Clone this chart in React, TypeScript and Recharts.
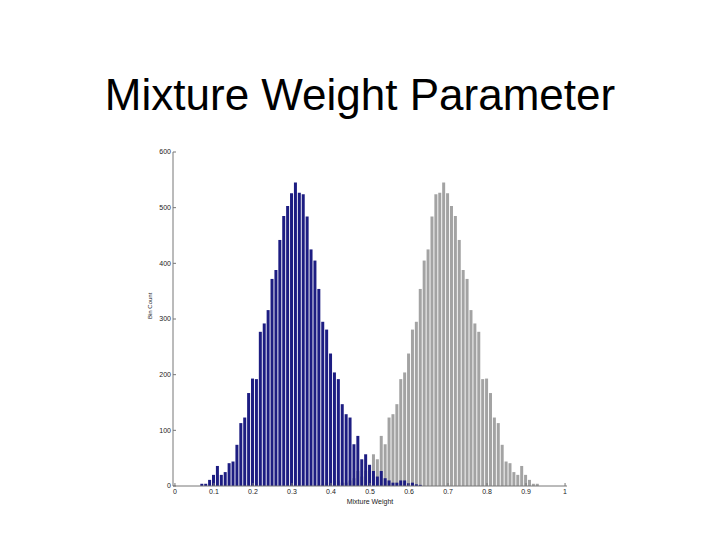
import React from "react"
import { BarChart, Bar, XAxis, YAxis } from "recharts"

// bin centres of the mixture-weight histogram
const bins = [
  0.07, 0.08, 0.09, 0.1, 0.11, 0.12, 0.13, 0.14, 0.15, 0.16, 0.17, 0.18, 0.19, 0.2, 0.21, 0.22, 0.23, 0.24, 0.25, 0.26,
  0.27, 0.28, 0.29, 0.3, 0.31, 0.32, 0.33, 0.34, 0.35, 0.36, 0.37, 0.38, 0.39, 0.4, 0.41, 0.42, 0.43, 0.44, 0.45, 0.46,
  0.47, 0.48, 0.49, 0.5, 0.51, 0.52, 0.53, 0.54, 0.55, 0.56, 0.57, 0.58, 0.59, 0.6, 0.61, 0.62, 0.63, 0.64, 0.65, 0.66,
  0.67, 0.68, 0.69, 0.7, 0.71, 0.72, 0.73, 0.74, 0.75, 0.76, 0.77, 0.78, 0.79, 0.8, 0.81, 0.82, 0.83, 0.84, 0.85, 0.86,
  0.87, 0.88, 0.89, 0.9, 0.91, 0.92, 0.93,
]

// first component (blue)
const blueCounts = [
  4, 4, 11, 20, 36, 20, 25, 41, 44, 74, 113, 123, 167, 193, 192, 277, 292, 316, 372, 388,
  442, 485, 503, 526, 545, 527, 524, 484, 425, 405, 354, 295, 281, 238, 204, 192, 147, 129, 123, 75,
  90, 48, 57, 38, 27, 17, 27, 14, 10, 6, 6, 10, 10, 5, 6, 3, 2, 0, 0, 0,
  0, 0, 0, 0, 0, 0, 0, 0, 0, 0, 0, 0, 0, 0, 0, 0, 0, 0, 0, 0,
  0, 0, 0, 0, 0, 0, 0,
]

// second component (grey)
const greyCounts = [
  0, 0, 0, 0, 0, 0, 0, 0, 0, 0, 0, 0, 0, 0, 0, 0, 0, 0, 0, 0,
  0, 0, 0, 0, 0, 0, 0, 0, 0, 0, 2, 3, 6, 5, 10, 10, 6, 6, 10, 14,
  27, 17, 27, 38, 57, 48, 90, 75, 123, 129, 147, 192, 204, 238, 281, 295, 354, 405, 425, 484,
  524, 527, 545, 526, 503, 485, 442, 388, 372, 316, 292, 277, 192, 193, 167, 123, 113, 74, 44, 41,
  25, 20, 36, 20, 11, 4, 4,
]

const xTicks = [0, 0.1, 0.2, 0.3, 0.4, 0.5, 0.6, 0.7, 0.8, 0.9, 1]
const yTicks = [0, 100, 200, 300, 400, 500, 600]

const data = bins.map((x, i) => ({ x, blue: blueCounts[i], grey: greyCounts[i] }))

const font = "Liberation Sans, Arial, sans-serif"
const tickFont = { fontSize: 7, fill: "#222", fontFamily: font }

export default function App() {
  return (
    <div style={{ position: "absolute", left: 0, top: 0, width: 720, height: 540, background: "#fff" }}>
      <div
        style={{
          position: "absolute",
          left: 0,
          top: 70,
          width: 720,
          textAlign: "center",
          fontFamily: font,
          fontSize: 44,
          lineHeight: "50px",
          color: "#000",
        }}
      >
        Mixture Weight Parameter
      </div>
      <div style={{ position: "absolute", left: 0, top: 0 }}>
        <BarChart width={720} height={540} data={data} margin={{ top: 152, right: 153, bottom: 40, left: 143 }}>
          <XAxis
            xAxisId="bottom"
            dataKey="x"
            type="number"
            domain={[-0.005, 1.005]}
            allowDataOverflow
            ticks={xTicks}
            tick={tickFont}
            tickSize={-3}
            tickMargin={6}
            height={14}
            axisLine={{ stroke: "#777" }}
            tickLine={{ stroke: "#777" }}
            label={{ value: "Mixture Weight", position: "insideBottom", offset: -4, fontSize: 7, fill: "#222", fontFamily: font }}
          />
          <XAxis
            xAxisId="top"
            orientation="top"
            dataKey="x"
            type="number"
            domain={[-0.005, 1.005]}
            allowDataOverflow
            ticks={xTicks}
            tick={false}
            tickSize={-3}
            height={0}
            axisLine={{ stroke: "#d6d6d6" }}
            tickLine={{ stroke: "#777" }}
          />
          <YAxis
            yAxisId="left"
            type="number"
            domain={[0, 600]}
            ticks={yTicks}
            tick={tickFont}
            tickSize={-3}
            tickMargin={5}
            width={30}
            axisLine={{ stroke: "#777" }}
            tickLine={{ stroke: "#777" }}
            label={{ value: "Bin Count", angle: -90, position: "insideLeft", offset: 7, fontSize: 6, fill: "#222", fontFamily: font }}
          />
          <YAxis
            yAxisId="right"
            orientation="right"
            type="number"
            domain={[0, 600]}
            ticks={yTicks}
            tick={false}
            tickSize={-3}
            width={0}
            axisLine={false}
            tickLine={{ stroke: "#777" }}
          />
          <Bar xAxisId="top" yAxisId="right" dataKey="grey" fill="#a3a3a3" barSize={3} isAnimationActive={false} />
          <Bar xAxisId="bottom" yAxisId="left" dataKey="blue" fill="#1d1d82" barSize={3} isAnimationActive={false} />
        </BarChart>
      </div>
    </div>
  )
}
